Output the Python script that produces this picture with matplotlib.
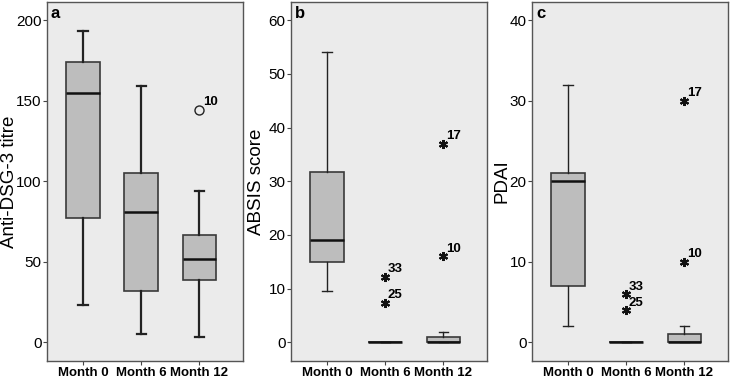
import matplotlib.pyplot as plt
import numpy as np

plt.rcParams['font.family'] = ['Liberation Sans', 'DejaVu Sans']

months = ["Month 0", "Month 6", "Month 12"]

# box stats per month: whislo, q1, med, q3, whishi
dsg3_stats = [[23, 77, 155, 174, 193],
              [5, 32, 81, 105, 159],
              [3.5, 39, 51.5, 66.5, 94]]
absis_stats = [[9.5, 15, 19, 31.8, 54],
               [0, 0, 0, 0, 0],
               [0, 0, 0, 1, 2]]
pdai_stats = [[2, 7, 20, 21, 32],
              [0, 0, 0, 0, 0],
              [0, 0, 0, 1, 2]]

# outliers: (month index, value, case id)
dsg3_out = [(2, 144, "10")]
absis_out = [(1, 12.2, "33"), (1, 7.4, "25"), (2, 37, "17"), (2, 16, "10")]
pdai_out = [(1, 6, "33"), (1, 4, "25"), (2, 30, "17"), (2, 10, "10")]

panels = [
    ("a", "Anti-DSG-3 titre", dsg3_stats, dsg3_out, "o", (-11.6, 211.3), [0, 50, 100, 150, 200], -0.19),
    ("b", "ABSIS score", absis_stats, absis_out, "*", (-3.47, 63.4), [0, 10, 20, 30, 40, 50, 60], -0.176),
    ("c", "PDAI", pdai_stats, pdai_out, "*", (-2.32, 42.27), [0, 10, 20, 30, 40], -0.153),
]

lefts = [47, 291, 532]
fig = plt.figure(figsize=(7.32, 3.8), dpi=100)

for (letter, ylab, stats, outs, mk, ylim, yt, labx), lx in zip(panels, lefts):
    ax = fig.add_axes([lx / 732, 19 / 380, 196 / 732, 359 / 380])
    ax.set_facecolor("#ebebeb")
    bstats = []
    for s in stats:
        bstats.append(dict(whislo=s[0], q1=s[1], med=s[2], q3=s[3], whishi=s[4], fliers=[]))
    lw_wh = 1.6 if letter == "a" else 1.0
    ax.bxp(bstats, positions=[1, 2, 3], widths=0.58, capwidths=0.16,
           patch_artist=True, showfliers=False,
           boxprops=dict(facecolor="#bdbdbd", edgecolor="#3a3a3a", linewidth=1.2),
           medianprops=dict(color="#111111", linewidth=1.8),
           whiskerprops=dict(color="#222222", linewidth=lw_wh),
           capprops=dict(color="#222222", linewidth=lw_wh))
    for i, v, lab in outs:
        if mk == "o":
            ax.plot(i + 1, v, marker="o", markersize=6.5, markerfacecolor="none",
                    markeredgecolor="#222222", markeredgewidth=1.0)
            off = (2.5, 1.5)
        else:
            ax.plot(i + 1, v, marker=(6, 2, 0), markersize=6.5, color="#111111",
                    markeredgewidth=1.5)
            off = (2, 1)
        ax.annotate(lab, (i + 1, v), xytext=off, textcoords="offset points",
                    ha="left", va="bottom", fontsize=9.5, fontweight="bold")
    ax.set_xlim(0.38, 3.75)
    ax.set_ylim(*ylim)
    ax.set_yticks(yt)
    ax.set_xticks([1, 2, 3])
    ax.set_xticklabels(months, fontweight="bold", fontsize=9.5)
    ax.tick_params(axis="y", labelsize=11, length=3, pad=1, color="#444444")
    ax.tick_params(axis="x", length=3, pad=1.5, color="#444444")
    for sp in ax.spines.values():
        sp.set_color("#555555")
        sp.set_linewidth(1.0)
    ax.set_ylabel(ylab, fontsize=13.5, va="center")
    ax.yaxis.set_label_coords(labx, 0.5)
    ax.text(0.02, 0.99, letter, transform=ax.transAxes, ha="left", va="top",
            fontsize=12, fontweight="bold")

fig.savefig("out.png", dpi=100)
